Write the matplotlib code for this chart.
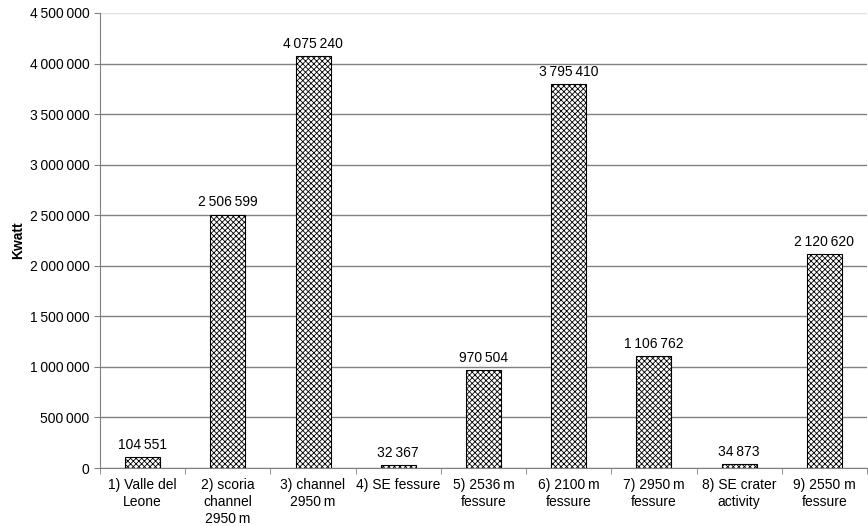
import matplotlib
matplotlib.use('Agg')
import matplotlib.pyplot as plt
import numpy as np
from matplotlib.ticker import FuncFormatter

categories = [
    '1) Valle del\nLeone',
    '2) scoria\nchannel\n2950\u2009m',
    '3) channel\n2950\u2009m',
    '4) SE fessure',
    '5) 2536\u2009m\nfessure',
    '6) 2100\u2009m\nfessure',
    '7) 2950\u2009m\nfessure',
    '8) SE crater\nactivity',
    '9) 2550 m\nfessure',
]
power_kwatt = [104551, 2506599, 4075240, 32367, 970504, 3795410, 1106762, 34873, 2120620]
y_ticks = np.arange(0, 4500001, 500000)

plt.rcParams['font.family'] = ['Liberation Sans', 'DejaVu Sans']
plt.rcParams['hatch.color'] = '#555555'
plt.rcParams['hatch.linewidth'] = 0.6


def spaced(v, pos=None):
    return '{:,}'.format(int(v)).replace(',', '\u2009')


fig = plt.figure(figsize=(8.68, 5.26), dpi=100)
ax = fig.add_axes([100 / 868, 58 / 526, 767 / 868, 455 / 526])

x = np.arange(len(categories))
bars = ax.bar(x, power_kwatt, width=0.41, color='white', edgecolor='black',
              linewidth=0.8, hatch='xxxxxx', zorder=3)

for xi, v in zip(x, power_kwatt):
    ax.text(xi, v + 50000, spaced(v), ha='center', va='bottom', fontsize=10)

ax.set_xlim(-0.5, len(categories) - 0.5)
ax.set_ylim(0, 4500000)
ax.set_yticks(y_ticks)
ax.yaxis.set_major_formatter(FuncFormatter(spaced))
ax.yaxis.grid(True, color='#808080', linewidth=1)
ax.get_ygridlines()[-1].set_color('#e0e0e0')
ax.set_axisbelow(True)

ax.set_xticks(x)
ax.set_xticklabels(categories, fontsize=10, linespacing=1.3)
ax.tick_params(axis='x', length=0, pad=7)
ax.set_xticks(np.arange(len(categories) + 1) - 0.5, minor=True)
ax.tick_params(axis='x', which='minor', length=4, color='#808080')
ax.tick_params(axis='y', length=4, color='#808080', labelsize=10)

for s in ['top', 'right']:
    ax.spines[s].set_visible(False)
ax.spines['left'].set_color('#808080')
ax.spines['bottom'].set_color('#808080')

ax.set_ylabel('Kwatt', fontsize=10, fontweight='bold')
ax.yaxis.set_label_coords(-0.097, 0.5)

fig.savefig('out.png', dpi=100)
